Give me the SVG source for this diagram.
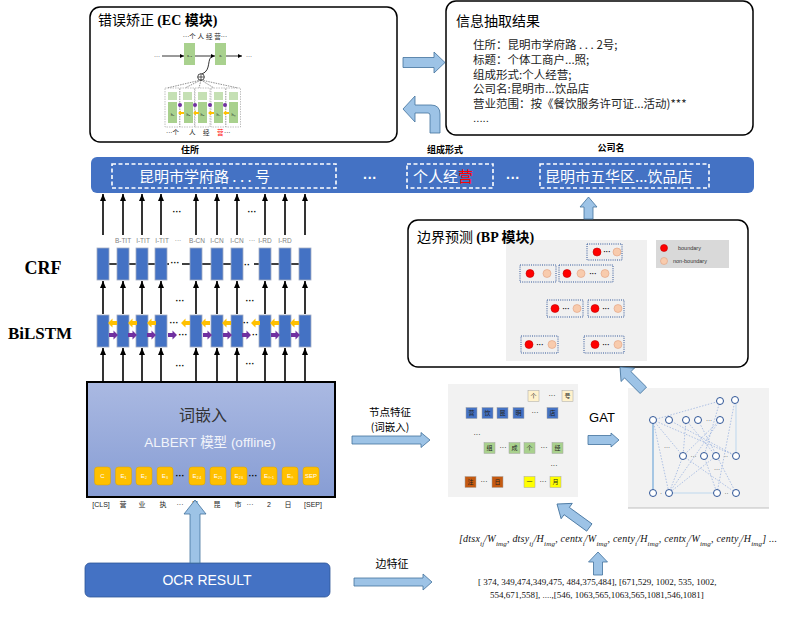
<svg xmlns="http://www.w3.org/2000/svg" width="785" height="623" viewBox="0 0 785 623">
<defs>
<style>
text{font-family:"Liberation Sans","Noto Sans CJK SC",sans-serif}
.cn{font-family:"Noto Sans CJK SC","Noto Sans",sans-serif}
.sf{font-family:"Liberation Serif","Noto Sans CJK SC",serif}
.panel{fill:#fff;stroke:#000;stroke-width:1.5}
.ba{fill:#9DC3E6;stroke:#41719C;stroke-width:0.8}
.ar{stroke:#000;stroke-width:1.6;fill:none;marker-end:url(#ah)}
.blk{fill:#4472C4;stroke:#A4ADC4;stroke-width:0.8}
.dots{font-size:9px;font-weight:bold;fill:#000;text-anchor:middle}
.yl{fill:#FFC000}
.pp{fill:#7030A0}
.red{fill:#FF0000;stroke:#C00000;stroke-width:0.6}
.peach{fill:#F8CBAD;stroke:#E0A080;stroke-width:0.6}
.dbox{fill:none;stroke:#2F5597;stroke-width:1;stroke-dasharray:1 1.2}
.gn{fill:#fff;stroke:#2F5597;stroke-width:1}
.ge{stroke:#8FAADC;stroke-width:0.7;stroke-dasharray:1.5 1.5;fill:none}
.lbl{font-size:6.5px;fill:#7F7F7F;text-anchor:middle}
.tok{font-size:7px;fill:#222;text-anchor:middle}
.ysq{fill:#FFC000;stroke:#D9A300;stroke-width:0.5}
.ytx{font-size:6px;fill:#fff;text-anchor:middle}
.sq{stroke:#A5A5A5;stroke-width:0.5}
.sqt{font-size:6px;fill:#222;text-anchor:middle}
.info{font-size:11.5px;fill:#222}
.wdash{fill:none;stroke:#fff;stroke-width:1.6;stroke-dasharray:4 2.5}
.bt{font-size:15px;fill:#fff}
.tiny{font-size:6.5px;fill:#222}
</style>
<marker id="ah" markerWidth="7" markerHeight="6" refX="7" refY="3" orient="auto" markerUnits="userSpaceOnUse"><path d="M0,0 L7,3 L0,6 Z" fill="#000"/></marker>
<marker id="ahs" markerWidth="4" markerHeight="4" refX="4" refY="2" orient="auto" markerUnits="userSpaceOnUse"><path d="M0,0 L4,2 L0,4 Z" fill="#000"/></marker>
<linearGradient id="alb" x1="0" y1="0" x2="0" y2="1"><stop offset="0" stop-color="#AAB9E2"/><stop offset="1" stop-color="#879DD4"/></linearGradient>
<path id="yarr" d="M0,0 L4.5,-4.5 V-2 H9 V2 H4.5 V4.5 Z"/>
<path id="parr" d="M0,0 L-4.5,-4.5 V-2 H-9 V2 H-4.5 V4.5 Z"/>
</defs>
<rect width="785" height="623" fill="#fff"/>

<!-- EC module -->
<g id="ec-module">
<rect class="panel" x="90" y="7" width="307" height="135" rx="10"/>
<text x="98" y="25" font-size="14" fill="#000"><tspan class="cn">错误矫正 </tspan><tspan class="sf" font-weight="bold">(EC 模块)</tspan></text>
<text x="205" y="39" class="tiny" text-anchor="middle">···个 人 经 营···</text>
<rect x="184" y="43" width="11" height="22" fill="#A9D18E"/>
<rect x="215" y="43" width="11" height="22" fill="#A9D18E"/>
<text x="189.5" y="57" font-size="4" fill="#222" text-anchor="middle">xᵢ₋₁</text>
<text x="220.5" y="57" font-size="4" fill="#222" text-anchor="middle">xᵢ</text>
<text x="157" y="58" font-size="6" fill="#000" text-anchor="middle">···</text>
<text x="249" y="58" font-size="6" fill="#000" text-anchor="middle">···</text>
<g stroke="#000" stroke-width="0.8" marker-end="url(#ahs)">
<line x1="162" y1="56" x2="184" y2="56"/>
<line x1="195" y1="56" x2="215" y2="56"/>
<line x1="226" y1="56" x2="242" y2="56"/>
</g>
<path d="M213,56 C206,58 212,70 202,74" stroke="#000" stroke-width="0.8" fill="none"/>
<circle cx="201" cy="77" r="3.3" fill="#fff" stroke="#000" stroke-width="0.7"/>
<path d="M197.7,77 H204.3 M201,73.7 V80.3" stroke="#000" stroke-width="0.6"/>
<g stroke="#444" stroke-width="0.6" stroke-dasharray="1.5 1" fill="none">
<line x1="201" y1="80" x2="167" y2="88"/>
<line x1="201" y1="80" x2="185" y2="88"/>
<line x1="201" y1="80" x2="199" y2="88"/>
<line x1="201" y1="80" x2="214" y2="88"/>
<line x1="201" y1="80" x2="238" y2="88"/>
</g>
<g stroke="#999" stroke-width="0.6" stroke-dasharray="1.5 1" fill="none">
<rect x="165" y="88" width="14.5" height="39"/>
<rect x="180" y="88" width="14.5" height="39"/>
<rect x="195" y="88" width="15" height="39"/>
<rect x="211" y="88" width="14.5" height="39"/>
<rect x="226" y="88" width="14.5" height="39"/>
</g>
<g fill="#C5E0B4">
<rect x="168" y="92" width="9" height="8"/><rect x="183" y="92" width="9" height="8"/><rect x="198" y="92" width="9" height="8"/><rect x="214" y="92" width="9" height="8"/><rect x="229" y="92" width="9" height="8"/>
</g>
<g fill="#A9D18E">
<rect x="168" y="102" width="9" height="21"/><rect x="184" y="102" width="9" height="21"/><rect x="198" y="102" width="9" height="21"/><rect x="214" y="102" width="9" height="21"/><rect x="229" y="102" width="9" height="21"/>
</g>
<g font-size="4" fill="#222" text-anchor="middle">
<text x="172.5" y="116">h₁</text><text x="188.5" y="116">h₂</text><text x="202.5" y="116">h₃</text><text x="218.5" y="116">h₄</text><text x="233.5" y="116">hₙ</text>
</g>
<g fill="#7030A0">
<circle cx="180" cy="105" r="2"/><circle cx="195" cy="105" r="2"/><circle cx="210" cy="105" r="2"/><circle cx="225" cy="105" r="2"/>
</g>
<g fill="#FFC000">
<path d="M178,113 l3,-2.5 v5 z M181,112 h3 v2 h-3z"/>
<path d="M193,113 l3,-2.5 v5 z M196,112 h3 v2 h-3z"/>
<path d="M208,113 l3,-2.5 v5 z M211,112 h3 v2 h-3z"/>
<path d="M223,113 l3,-2.5 v5 z M226,112 h3 v2 h-3z"/>
</g>
<text y="135" class="tiny"><tspan x="166">···个</tspan><tspan x="189">人</tspan><tspan x="203">经</tspan><tspan x="217" fill="#FF0000">营</tspan><tspan x="224">···</tspan></text>
</g>

<!-- info result -->
<g id="info-result">
<rect class="panel" x="446" y="1" width="307" height="134" rx="10"/>
<text x="456" y="26" font-size="14" class="cn" fill="#000">信息抽取结果</text>
<text x="473" y="49" class="info cn">住所：昆明市学府路 . . . 2号;</text>
<text x="473" y="64" class="info cn">标题：个体工商户...照;</text>
<text x="473" y="78.5" class="info cn">组成形式:个人经营;</text>
<text x="473" y="93" class="info cn">公司名:昆明市...饮品店</text>
<text x="473" y="107.5" class="info cn">营业范围：按《餐饮服务许可证...活动)***</text>
<text x="473" y="122" class="info">.....</text>
</g>

<!-- entity bar -->
<g id="entity-bar">
<rect x="91" y="157" width="663" height="36" rx="6" fill="#4472C4"/>
<rect class="wdash" x="112" y="164" width="224" height="24"/>
<text x="139" y="182" class="bt cn">昆明市学府路 . . . 号</text>
<text x="370" y="183" font-size="14" font-weight="bold" fill="#fff" text-anchor="middle">···</text>
<rect class="wdash" x="407" y="164" width="86" height="24"/>
<text x="413" y="182" class="bt cn">个人经<tspan fill="#FF0000">营</tspan></text>
<text x="513" y="183" font-size="14" font-weight="bold" fill="#fff" text-anchor="middle">···</text>
<rect class="wdash" x="540" y="164" width="169" height="24"/>
<text x="545" y="182" class="bt cn">昆明市五华区...饮品店</text>
<text x="190" y="153" font-size="9" font-weight="bold" class="cn" text-anchor="middle">住所</text>
<text x="445" y="153" font-size="9" font-weight="bold" class="cn" text-anchor="middle">组成形式</text>
<text x="611" y="151" font-size="9" font-weight="bold" class="cn" text-anchor="middle">公司名</text>
</g>

<!-- CRF layer -->
<g id="crf-layer">
<text x="43" y="274" font-size="18" font-weight="bold" class="sf" text-anchor="middle">CRF</text>
<g stroke="#000" stroke-width="1.5">
<line x1="103" y1="264" x2="169" y2="264"/><line x1="182" y1="264" x2="241" y2="264"/><line x1="254" y1="264" x2="305" y2="264"/>
</g>
<g class="blk">
<rect x="97" y="248" width="12" height="32"/><rect x="117" y="248" width="12" height="32"/><rect x="136" y="248" width="12" height="32"/><rect x="155" y="248" width="12" height="32"/><rect x="190" y="248" width="12" height="32"/><rect x="211" y="248" width="12" height="32"/><rect x="231" y="248" width="12" height="32"/><rect x="259" y="248" width="12" height="32"/><rect x="279" y="248" width="12" height="32"/><rect x="299" y="248" width="12" height="32"/>
</g>
<text x="175" y="266" class="dots">···</text>
<text x="247" y="268" class="dots">··</text>
<text x="123" y="243" class="lbl">B-TIT</text><text x="143" y="243" class="lbl">I-TIT</text><text x="162" y="243" class="lbl">I-TIT</text><text x="178" y="243" class="lbl">···</text><text x="197" y="243" class="lbl">B-CN</text><text x="217" y="243" class="lbl">I-CN</text><text x="237" y="243" class="lbl">I-CN</text><text x="252" y="243" class="lbl">···</text><text x="265" y="243" class="lbl">I-RD</text><text x="285" y="243" class="lbl">I-RD</text>
</g>

<!-- BiLSTM layer -->
<g id="bilstm-layer">
<text x="40" y="339" font-size="17" font-weight="bold" class="sf" text-anchor="middle">BiLSTM</text>
<g class="blk" stroke="#A0A0A0">
<rect x="97" y="315" width="12" height="32"/><rect x="117" y="315" width="12" height="32"/><rect x="136" y="315" width="12" height="32"/><rect x="155" y="315" width="12" height="32"/><rect x="190" y="315" width="12" height="32"/><rect x="211" y="315" width="12" height="32"/><rect x="231" y="315" width="12" height="32"/><rect x="259" y="315" width="12" height="32"/><rect x="279" y="315" width="12" height="32"/><rect x="299" y="315" width="12" height="32"/>
</g>
<g class="yl">
<use href="#yarr" x="108" y="323"/><use href="#yarr" x="128" y="323"/><use href="#yarr" x="147" y="323"/><use href="#yarr" x="181" y="323"/><use href="#yarr" x="201" y="323"/><use href="#yarr" x="222" y="323"/><use href="#yarr" x="251" y="323"/><use href="#yarr" x="270" y="323"/><use href="#yarr" x="290" y="323"/>
</g>
<g class="pp">
<use href="#parr" x="118" y="335"/><use href="#parr" x="137" y="335"/><use href="#parr" x="156" y="335"/><use href="#parr" x="177" y="335"/><use href="#parr" x="212" y="335"/><use href="#parr" x="232" y="335"/><use href="#parr" x="251" y="335"/><use href="#parr" x="280" y="335"/><use href="#parr" x="300" y="335"/>
</g>
<text x="174" y="326" class="dots">···</text>
<text x="183" y="338" class="dots">···</text>
<text x="246" y="326" class="dots">··</text>
<text x="255" y="338" class="dots">··</text>
</g>

<!-- ALBERT -->
<g id="albert">
<rect x="87" y="382" width="248" height="115" fill="url(#alb)" stroke="#000" stroke-width="2"/>
<text x="203" y="421" font-size="16" class="cn" fill="#333" text-anchor="middle">词嵌入</text>
<text x="210" y="447" font-size="13.5" fill="#F2F4FA" text-anchor="middle" font-family="Noto Sans, Noto Sans CJK SC, sans-serif">ALBERT <tspan class="cn">模型</tspan> (offline)</text>
<g class="ysq">
<rect x="94.5" y="467" width="16" height="18" rx="3"/><rect x="115.5" y="467" width="16" height="18" rx="3"/><rect x="136" y="467" width="16" height="18" rx="3"/><rect x="157" y="467" width="16" height="18" rx="3"/><rect x="189" y="467" width="16" height="18" rx="3"/><rect x="210" y="467" width="16" height="18" rx="3"/><rect x="231" y="467" width="16" height="18" rx="3"/><rect x="261" y="467" width="16" height="18" rx="3"/><rect x="282" y="467" width="16" height="18" rx="3"/><rect x="303" y="467" width="16" height="18" rx="3"/>
</g>
<g class="ytx">
<text x="102.5" y="478">C</text><text x="123.5" y="478">E₁</text><text x="144" y="478">E₂</text><text x="165" y="478">E₃</text><text x="197" y="478">E₂₄</text><text x="218" y="478">E₂₅</text><text x="239" y="478">E₂₆</text><text x="269" y="478">Eₙ₋₁</text><text x="290" y="478">Eₙ</text><text x="311" y="478">SEP</text>
</g>
<text x="180" y="479" class="dots">···</text>
<text x="253" y="479" class="dots">···</text>
<g class="tok cn">
<text x="101" y="507">[CLS]</text><text x="123" y="507">营</text><text x="142" y="507">业</text><text x="163" y="507">执</text><text x="180" y="507">···</text><text x="195" y="507">号</text><text x="217" y="507">昆</text><text x="238" y="507">市</text><text x="250" y="507">···</text><text x="269" y="507">2</text><text x="288" y="507">日</text><text x="313" y="507">[SEP]</text>
</g>
</g>

<!-- OCR -->
<g id="ocr-result">
<rect x="85" y="563" width="245" height="34" rx="5" fill="#4472C4" stroke="#2F5597" stroke-width="0.8"/>
<text x="207" y="585" font-size="14" fill="#fff" text-anchor="middle">OCR RESULT</text>
</g>

<!-- BP module -->
<g id="bp-module">
<rect class="panel" x="408" y="220" width="340" height="147" rx="10"/>
<rect x="506" y="240" width="141" height="121" fill="#F0F0F0"/>
<text x="417" y="242" font-size="14" fill="#000"><tspan class="cn">边界预测 </tspan><tspan class="sf" font-weight="bold">(BP 模块)</tspan></text>
<rect x="656" y="240" width="73" height="28" fill="#D9D9D9"/>
<circle class="red" cx="664" cy="248" r="3.5"/>
<circle class="peach" cx="664" cy="261" r="3.5"/>
<text x="678" y="250" font-size="5.5" fill="#333">boundary</text>
<text x="673" y="263" font-size="5.5" fill="#333">non-boundary</text>
<g class="dbox">
<rect x="587" y="244" width="35" height="16"/><rect x="520" y="265" width="36" height="17"/><rect x="559" y="265" width="54" height="17"/><rect x="547" y="300" width="36" height="17"/><rect x="588" y="300" width="36" height="17"/><rect x="521" y="336" width="37" height="17"/><rect x="584" y="336" width="40" height="17"/>
</g>
<g class="red">
<circle cx="597" cy="252" r="4"/><circle cx="530" cy="273.5" r="4"/><circle cx="567" cy="273.5" r="4"/><circle cx="555" cy="308.5" r="4"/><circle cx="595" cy="308.5" r="4"/><circle cx="529" cy="344.5" r="4"/><circle cx="595" cy="344.5" r="4"/>
</g>
<g class="peach">
<circle cx="617" cy="252" r="4"/><circle cx="547" cy="273.5" r="4"/><circle cx="581" cy="273.5" r="4"/><circle cx="605" cy="273.5" r="4"/><circle cx="577" cy="308.5" r="4"/><circle cx="618" cy="308.5" r="4"/><circle cx="552" cy="344.5" r="4"/><circle cx="618" cy="344.5" r="4"/>
</g>
<g font-size="7" font-weight="bold" fill="#000" text-anchor="middle">
<text x="607" y="254">···</text><text x="593" y="276">···</text><text x="566" y="311">···</text><text x="606" y="311">···</text><text x="540" y="347">···</text><text x="606" y="347">···</text>
</g>
</g>

<!-- node feature graph -->
<g id="node-features">
<rect x="448" y="384" width="130" height="113" fill="#F2F2F2"/>
<g class="sq" fill="#FFF2CC"><rect x="528" y="390.5" width="11" height="11"/><rect x="562" y="390.5" width="11" height="11"/></g>
<g class="sq" fill="#4472C4"><rect x="466" y="407.5" width="11" height="11"/><rect x="482" y="407.5" width="11" height="11"/><rect x="497" y="407.5" width="11" height="11"/><rect x="513" y="407.5" width="11" height="11"/><rect x="547" y="407.5" width="11" height="11"/></g>
<g class="sq" fill="#A9D18E"><rect x="484" y="442.5" width="11" height="11"/><rect x="509" y="442.5" width="11" height="11"/><rect x="524" y="442.5" width="11" height="11"/><rect x="552" y="442.5" width="11" height="11"/></g>
<g class="sq" fill="#C55A11"><rect x="465" y="476.5" width="11" height="11"/><rect x="492" y="476.5" width="11" height="11"/></g>
<g class="sq" fill="#FFFF00"><rect x="524" y="476.5" width="11" height="11"/><rect x="550" y="476.5" width="11" height="11"/></g>
<g class="sqt cn">
<text x="533.5" y="398">个</text><text x="567.5" y="398">号</text>
<text x="471.5" y="415">营</text><text x="487.5" y="415">饮</text><text x="502.5" y="415">昆</text><text x="518.5" y="415">明</text><text x="552.5" y="415">店</text>
<text x="489.5" y="450">组</text><text x="514.5" y="450">成</text><text x="529.5" y="450">个</text><text x="557.5" y="450">经</text>
<text x="470.5" y="484">注</text><text x="497.5" y="484">日</text><text x="529.5" y="484">一</text><text x="555.5" y="484">月</text>
</g>
<g font-size="7" fill="#000" text-anchor="middle">
<text x="552" y="398">···</text><text x="535" y="415">···</text><text x="477" y="437">···</text><text x="503" y="450">···</text><text x="544" y="450">···</text><text x="554" y="468">···</text><text x="484" y="484">···</text><text x="543" y="484">···</text>
</g>
</g>

<!-- GAT graph -->
<g id="gat-graph">
<rect x="628" y="388" width="141" height="120" fill="#F2F2F2"/>
<line x1="628" y1="508" x2="769" y2="508" stroke="#BFBFBF" stroke-width="1"/>
<g class="ge">
<line x1="653" y1="420" x2="720" y2="401"/>
<line x1="653" y1="420" x2="683" y2="456"/>
<line x1="653" y1="420" x2="736" y2="456"/>
<line x1="653" y1="420" x2="669" y2="493"/>
<line x1="669" y1="420" x2="736" y2="456"/>
<line x1="686" y1="420" x2="716" y2="456"/>
<line x1="698" y1="420" x2="736" y2="493"/>
<line x1="720" y1="420" x2="683" y2="456"/>
<line x1="720" y1="420" x2="669" y2="493"/>
<line x1="720" y1="401" x2="704" y2="456"/>
<line x1="735" y1="400" x2="717" y2="493"/>
<line x1="683" y1="456" x2="736" y2="493"/>
<line x1="683" y1="456" x2="669" y2="493"/>
<line x1="704" y1="456" x2="717" y2="493"/>
<line x1="686" y1="420" x2="683" y2="456"/>
<line x1="716" y1="456" x2="669" y2="493"/>
</g>
<line x1="653" y1="420" x2="653" y2="493" stroke="#5B9BD5" stroke-width="1"/>
<line x1="669" y1="493" x2="717" y2="493" stroke="#BDD7EE" stroke-width="1.2"/>
<line x1="736" y1="404" x2="736" y2="452" stroke="#BDD7EE" stroke-width="1"/>
<g class="gn">
<circle cx="720" cy="401" r="3.5"/><circle cx="735" cy="400" r="3.5"/>
<circle cx="653" cy="420" r="3.5"/><circle cx="669" cy="420" r="3.5"/><circle cx="686" cy="420" r="3.5"/><circle cx="698" cy="420" r="3.5"/><circle cx="720" cy="420" r="3.5"/>
<circle cx="683" cy="456" r="3.5"/><circle cx="704" cy="456" r="3.5"/><circle cx="716" cy="456" r="3.5"/><circle cx="736" cy="456" r="3.5"/>
<circle cx="653" cy="493" r="3.5"/><circle cx="669" cy="493" r="3.5"/><circle cx="717" cy="493" r="3.5"/><circle cx="736" cy="493" r="3.5"/>
</g>
<g font-size="6" fill="#000" text-anchor="middle">
<text x="709" y="422">···</text><text x="693.5" y="458">···</text><text x="726" y="458">··</text><text x="661" y="495">·</text><text x="726.5" y="495">··</text><text x="667" y="449">···</text><text x="717" y="471">···</text>
</g>
</g>

<!-- edge features text -->
<g id="edge-features">
<text x="459" y="542" font-size="10" font-style="italic" class="sf" fill="#111" textLength="318" lengthAdjust="spacing">[dtsx<tspan baseline-shift="sub" font-size="7">ij</tspan>/W<tspan baseline-shift="sub" font-size="7">img</tspan>, dtsy<tspan baseline-shift="sub" font-size="7">ij</tspan>/H<tspan baseline-shift="sub" font-size="7">img</tspan>, centx<tspan baseline-shift="sub" font-size="7">i</tspan>/W<tspan baseline-shift="sub" font-size="7">img</tspan>, centy<tspan baseline-shift="sub" font-size="7">i</tspan>/H<tspan baseline-shift="sub" font-size="7">img</tspan>, centx<tspan baseline-shift="sub" font-size="7">j</tspan>/W<tspan baseline-shift="sub" font-size="7">img</tspan>, centy<tspan baseline-shift="sub" font-size="7">j</tspan>/H<tspan baseline-shift="sub" font-size="7">img</tspan>] ...</text>
<text x="478" y="585" font-size="9" class="sf" fill="#111">[ 374, 349,474,349,475, 484,375,484],  [671,529, 1002, 535, 1002,</text>
<text x="490" y="598" font-size="9" class="sf" fill="#111">554,671,558], ....,[546, 1063,565,1063,565,1081,546,1081]</text>
</g>

<!-- labels -->
<g id="labels">
<text x="390" y="416" font-size="10.5" class="cn" text-anchor="middle">节点特征</text>
<text x="390" y="431" font-size="10.5" class="cn" text-anchor="middle">(词嵌入)</text>
<text x="602" y="422" font-size="13" text-anchor="middle">GAT</text>
<text x="392" y="568" font-size="11" class="cn" text-anchor="middle">边特征</text>
</g>

<!-- connectors -->
<g id="connectors">
<g class="ar">
<line x1="103" y1="235" x2="103" y2="194"/><line x1="123" y1="235" x2="123" y2="194"/><line x1="142" y1="235" x2="142" y2="194"/><line x1="161" y1="235" x2="161" y2="194"/><line x1="196" y1="235" x2="196" y2="194"/><line x1="217" y1="235" x2="217" y2="194"/><line x1="237" y1="235" x2="237" y2="194"/><line x1="265" y1="235" x2="265" y2="194"/><line x1="285" y1="235" x2="285" y2="194"/><line x1="305" y1="235" x2="305" y2="194"/>
<line x1="103" y1="314" x2="103" y2="281"/><line x1="123" y1="314" x2="123" y2="281"/><line x1="142" y1="314" x2="142" y2="281"/><line x1="161" y1="314" x2="161" y2="281"/><line x1="196" y1="314" x2="196" y2="281"/><line x1="217" y1="314" x2="217" y2="281"/><line x1="237" y1="314" x2="237" y2="281"/><line x1="265" y1="314" x2="265" y2="281"/><line x1="285" y1="314" x2="285" y2="281"/><line x1="305" y1="314" x2="305" y2="281"/>
<line x1="103" y1="381" x2="103" y2="348"/><line x1="123" y1="381" x2="123" y2="348"/><line x1="142" y1="381" x2="142" y2="348"/><line x1="161" y1="381" x2="161" y2="348"/><line x1="196" y1="381" x2="196" y2="348"/><line x1="217" y1="381" x2="217" y2="348"/><line x1="237" y1="381" x2="237" y2="348"/><line x1="265" y1="381" x2="265" y2="348"/><line x1="285" y1="381" x2="285" y2="348"/><line x1="305" y1="381" x2="305" y2="348"/>
</g>
<text x="177" y="215" class="dots">···</text><text x="252" y="215" class="dots">···</text>
<text x="180" y="304" class="dots">···</text><text x="250" y="304" class="dots">···</text>
<text x="180" y="369" class="dots">···</text><text x="250" y="367" class="dots">···</text>
<path class="ba" d="M403,57.5 H434 V52 L445,62.5 L434,73 V67.5 H403 Z"/>
<path class="ba" d="M440,133 V114 Q440,105 431,105 H415 V96 L403,109 L415,122 V113 H428 Q430,113 430,115 V133 Z"/>
<path class="ba" d="M584,219 V207 H580 L588.5,197 L597,207 H593 V219 Z"/>
<path class="ba" transform="translate(620,367) rotate(225)" d="M-33,-4.5 H-11 V-9.5 L0,0 L-11,9.5 V4.5 H-33 Z"/>
<path class="ba" transform="translate(557,504) rotate(216)" d="M-40,-4.5 H-12 V-9.5 L0,0 L-12,9.5 V4.5 H-40 Z"/>
<path class="ba" d="M593.5,575 V562 H588.5 L598,552 L607.5,562 H602.5 V575 Z"/>
<path class="ba" d="M190,563 V514 H184 L195,500 L206,514 H200 V563 Z"/>
<path class="ba" stroke="#2F5597" d="M352,436 H421 V432.5 L430,440 L421,447.5 V444 H352 Z"/>
<path class="ba" stroke="#2F5597" d="M588,435.5 H611 V433 L619,440 L611,447 V444.5 H588 Z"/>
<path class="ba" d="M354,578 H423 V574 L432,582 L423,590 V586 H354 Z"/>
</g>
</svg>
